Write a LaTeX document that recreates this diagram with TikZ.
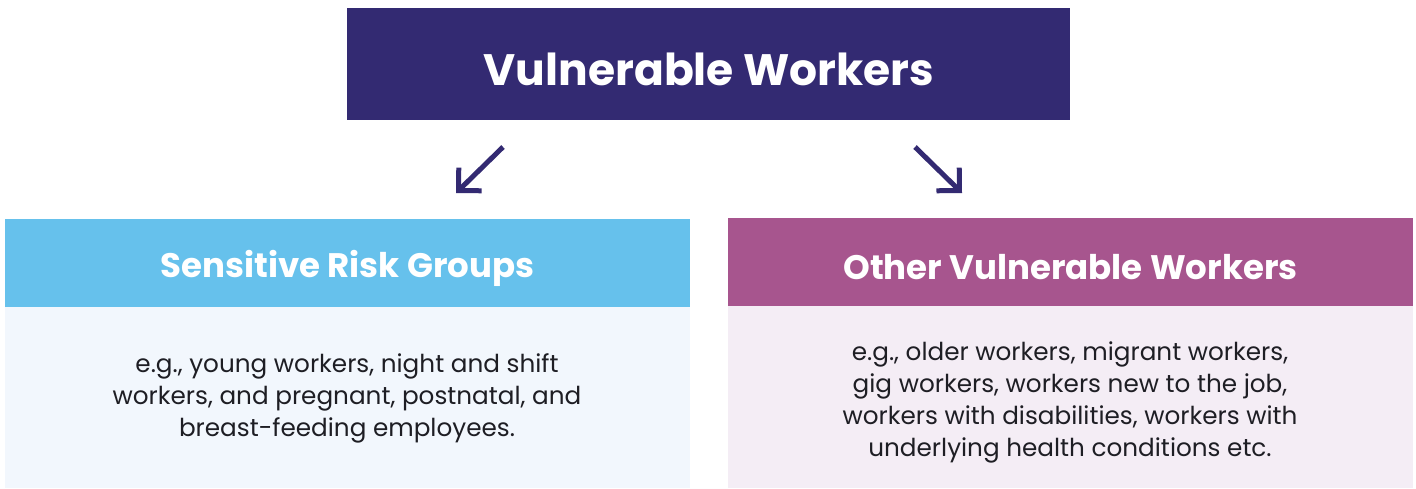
\documentclass[tikz,border=0pt]{standalone}
\usepackage{fontspec}
\setmainfont{Poppins}
\usetikzlibrary{arrows.meta}
\definecolor{navy}{HTML}{332A72}
\definecolor{skyhead}{HTML}{66C1EC}
\definecolor{skybody}{HTML}{F2F7FD}
\definecolor{plumhead}{HTML}{A7558E}
\definecolor{plumbody}{HTML}{F4EDF5}
\definecolor{ink}{HTML}{1E1E24}
\begin{document}
\begin{tikzpicture}[x=1pt,y=-1pt,
  band/.style={anchor=north west, inner sep=0pt, outer sep=0pt},
  headtext/.style={font=\fontsize{34}{38}\selectfont\bfseries, text=white},
  bodytext/.style={font=\fontsize{24.7}{32}\selectfont, text=ink, align=center},
  pointer/.style={draw=navy, line width=5pt, line cap=butt,
    -{Straight Barb[angle=90:23pt, line cap=butt, line join=miter]}}]
  \useasboundingbox (0,0) rectangle (1416,488);
  % title bar
  \node[band, fill=navy, minimum width=723pt, minimum height=112pt] (top) at (347,8) {};
  \node[font=\fontsize{44}{50}\selectfont\bfseries, text=white] (title) at (709,69) {Vulnerable Workers};
  % left column
  \node[band, fill=skyhead, minimum width=685pt, minimum height=88pt] (lhead) at (5,219) {};
  \node[band, fill=skybody, minimum width=685pt, minimum height=181pt] (lbody) at (5,307) {};
  \node[headtext] (ltitle) at ([yshift=-5pt]lhead.center) {Sensitive Risk Groups};
  \node[bodytext] (ltext) at (347,398) {e.g., young workers, night and shift\\workers, and pregnant, postnatal, and\\breast-feeding employees.};
  % right column
  \node[band, fill=plumhead, minimum width=685pt, minimum height=88pt] (rhead) at (728,218) {};
  \node[band, fill=plumbody, minimum width=685pt, minimum height=182pt] (rbody) at (728,306) {};
  \node[headtext] (rtitle) at ([yshift=-5pt]rhead.center) {Other Vulnerable Workers};
  \node[bodytext] (rtext) at (1070,402) {e.g., older workers, migrant workers,\\gig workers, workers new to the job,\\workers with disabilities, workers with\\underlying health conditions etc.};
  % arrows
  \coordinate (la) at (503,147);
  \coordinate (lb) at (456,193);
  \coordinate (ra) at (915,147);
  \coordinate (rb) at (962,193);
  \draw[pointer] (la) -- (lb);
  \draw[pointer] (ra) -- (rb);
\end{tikzpicture}
\end{document}
